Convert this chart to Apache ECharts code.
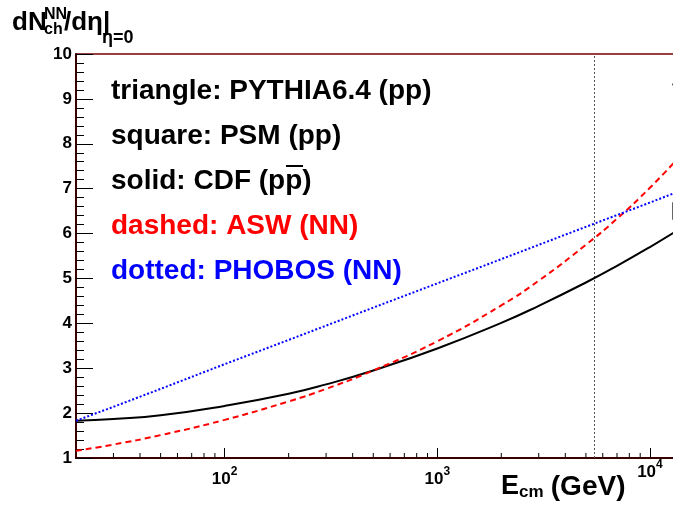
<!DOCTYPE html>
<html><head><meta charset="utf-8">
<script src="https://cdn.jsdelivr.net/npm/echarts@6/dist/echarts.min.js"></script>
<style>html,body{margin:0;padding:0;background:#fff}#c{width:673px;height:506px}</style>
</head><body><div id="c"></div>
<script>
// ---- data ----
const energyGrid = [20, 30, 50, 100, 200, 300, 500, 1000, 2000, 3000, 5000, 7000, 10000, 14000];
const cdfValues  = [1.83, 1.87, 1.95, 2.16, 2.43, 2.64, 2.95, 3.44, 4.01, 4.39, 4.91, 5.28, 5.70, 6.12];
const aswValues  = [1.16, 1.30, 1.51, 1.85, 2.26, 2.54, 2.95, 3.60, 4.40, 4.95, 5.75, 6.33, 7.02, 7.75];
const phobosEnergies = [20, 24, 30, 50, 100, 200, 500, 1000, 2000, 5000, 10000, 14000];
const phobosValues   = [1.83, 1.97, 2.14, 2.54, 3.09, 3.63, 4.35, 4.89, 5.43, 6.15, 6.69, 6.96];
const pythiaPoint = [[14000, 9.5]];
const psmPoint    = [[14000, 6.5]];
const lhcEnergy = 5500;
const xMin = 20, xMax = 14000, yMin = 1, yMax = 10;
const xMinorTicks = [30,40,50,60,70,80,90,200,300,400,500,600,700,800,900,2000,3000,4000,5000,6000,7000,8000,9000];
const xTickLabels = {100: '2', 1000: '3', 10000: '4'};
const legendLines = [
  {text: 'triangle: PYTHIA6.4 (pp)', color: '#000'},
  {text: 'square: PSM (pp)', color: '#000'},
  {text: 'solid: CDF (pp)', color: '#000'},
  {text: 'dashed: ASW (NN)', color: '#ff0000'},
  {text: 'dotted: PHOBOS (NN)', color: '#0000ff'}
];

const FONT = '"Liberation Sans", Arial, sans-serif';
const zip = (xs, ys) => xs.map((x, i) => [x, ys[i]]);

const chart = echarts.init(document.getElementById('c'), null, {renderer: 'canvas'});

const legendSize = 28;
const graphics = [];
legendLines.forEach((l, i) => {
  graphics.push({type: 'text', left: 111, top: 77 + 45 * i, z: 100,
    style: {text: l.text, fill: l.color, font: 'bold ' + legendSize + 'px ' + FONT}});
});
// overline on anti-proton
graphics.push({type: 'line', z: 100, shape: {x1: 286, y1: 166, x2: 303, y2: 166},
  style: {stroke: '#000', lineWidth: 2}});
// y title pieces
graphics.push({type: 'text', left: 12, top: 10, z: 100, style: {text: 'dN', fill: '#000', font: 'bold 26px ' + FONT}});
graphics.push({type: 'text', left: 44, top: 7, z: 100, style: {text: 'NN', fill: '#000', font: 'bold 16px ' + FONT}});
graphics.push({type: 'text', left: 44, top: 22, z: 100, style: {text: 'ch', fill: '#000', font: 'bold 16px ' + FONT}});
graphics.push({type: 'text', left: 64, top: 10, z: 100, style: {text: '/d\u03b7|', fill: '#000', font: 'bold 26px ' + FONT}});
graphics.push({type: 'text', left: 102, top: 29, z: 100, style: {text: '\u03b7=0', fill: '#000', font: 'bold 18px ' + FONT}});
// x title
graphics.push({type: 'text', left: 501, top: 473, z: 100, style: {text: 'E', fill: '#000', font: 'bold 27px ' + FONT}});
graphics.push({type: 'text', left: 519, top: 484, z: 100, style: {text: 'cm', fill: '#000', font: 'bold 17px ' + FONT}});
graphics.push({type: 'text', left: 543, top: 473, z: 100, style: {text: ' (GeV)', fill: '#000', font: 'bold 28px ' + FONT}});

const lab = (size, pad) => ({fontSize: size, fontWeight: 'bold', fontFamily: FONT, color: '#000',
  verticalAlign: 'top', padding: [pad, 0, 0, 0]});

const option = {
  animation: false,
  backgroundColor: '#fff',
  grid: {left: 76, right: -8, top: 54, bottom: 48, outerBoundsMode: 'none', containLabel: false,
         show: true, borderColor: '#7a0000', borderWidth: 1.5, backgroundColor: 'transparent'},
  xAxis: {
    type: 'log', logBase: 10, min: xMin, max: xMax,
    axisLine: {show: true, onZero: false, lineStyle: {color: '#3a0000', width: 2}},
    axisTick: {show: true, inside: true, length: 10, lineStyle: {color: '#000', width: 1}},
    minorTick: {show: false},
    splitLine: {show: false},
    axisLabel: {
      show: true, margin: 1, showMinLabel: false, showMaxLabel: false, hideOverlap: false,
      formatter: v => {
        const e = xTickLabels[Math.round(v)];
        if (!e) return '';
        return e === '4' ? '{b4|10}{s4|' + e + '}' : '{b|10}{s|' + e + '}';
      },
      rich: {b: lab(17, 12), s: lab(12, 7), b4: lab(17, 5), s4: lab(12, 0)}
    }
  },
  yAxis: {
    type: 'value', min: yMin, max: yMax, interval: 1,
    axisLine: {show: true, onZero: false, lineStyle: {color: '#3a0000', width: 2}},
    axisTick: {show: true, inside: true, length: 17, lineStyle: {color: '#000', width: 1}},
    minorTick: {show: true, splitNumber: 5, length: 8, lineStyle: {color: '#000', width: 1}},
    splitLine: {show: false},
    axisLabel: {margin: 4, fontSize: 17, fontWeight: 'bold', fontFamily: FONT, color: '#000'}
  },
  graphic: graphics,
  series: [
    {name: 'CDF', type: 'line', data: zip(energyGrid, cdfValues), smooth: true, symbol: 'none',
     lineStyle: {color: '#000', width: 2, type: 'solid'}, z: 5,
     markLine: {silent: true, symbol: 'none', label: {show: false},
       lineStyle: {color: '#555', width: 1, type: [2, 2]}, data: [{xAxis: lhcEnergy}]}},
    {name: 'ASW', type: 'line', data: zip(energyGrid, aswValues), smooth: true, symbol: 'none',
     lineStyle: {color: '#ff0000', width: 2, type: [6, 4]}, z: 5},
    {name: 'PHOBOS', type: 'line', data: zip(phobosEnergies, phobosValues), smooth: false, symbol: 'none',
     lineStyle: {color: '#0000ff', width: 2, type: [2, 2]}, z: 5},
    {name: 'PYTHIA6.4', type: 'scatter', data: pythiaPoint, symbol: 'triangle', symbolSize: 16, clip: false,
     itemStyle: {color: 'transparent', borderColor: '#000', borderWidth: 1.5}, z: 6},
    {name: 'PSM', type: 'scatter', data: psmPoint, symbol: 'rect', symbolSize: 16, clip: false,
     itemStyle: {color: 'transparent', borderColor: '#000', borderWidth: 1.5}, z: 6},
    {name: 'minorTicks', type: 'custom', silent: true, z: 7,
     data: xMinorTicks.map(v => [v, yMin]), encode: {x: 0, y: 1},
     renderItem: (params, api) => {
       const p = api.coord([api.value(0), api.value(1)]);
       return {type: 'line', shape: {x1: p[0], y1: p[1], x2: p[0], y2: p[1] - 5},
               style: {stroke: '#000', lineWidth: 1}};
     }}
  ]
};
chart.setOption(option);
</script>
</body></html>
